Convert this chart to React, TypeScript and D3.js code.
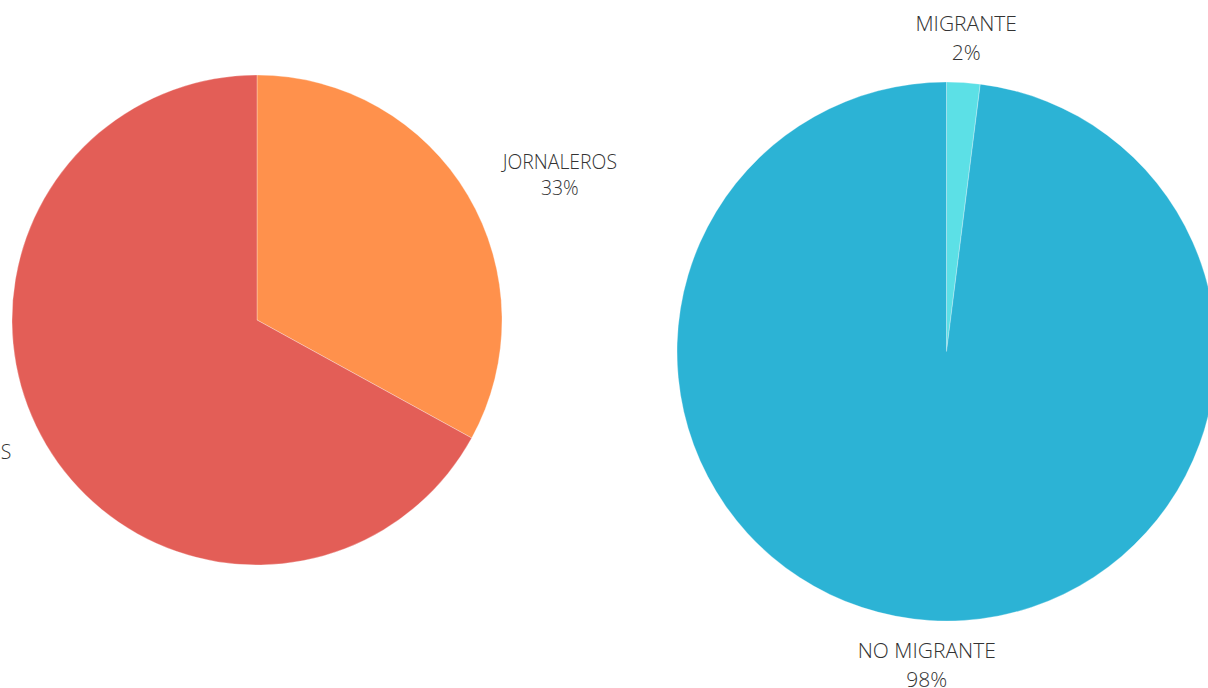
import React from "react";
import * as d3 from "d3";

const leftCategories = ["JORNALEROS", "NO JORNALEROS"];
const leftValues = [33, 67];
const leftColors = ["#FF914C", "#E35E57"];

const rightCategories = ["MIGRANTE", "NO MIGRANTE"];
const rightValues = [2, 98];
const rightColors = ["#5CE0E6", "#2CB3D5"];

const W = 1208;
const H = 688;

let ctx: CanvasRenderingContext2D | null = null;
function measure(t: string, size: number): number {
  if (!ctx) {
    const c = document.createElement("canvas");
    ctx = c.getContext("2d");
  }
  if (!ctx) return t.length * size * 0.6;
  ctx.font = `300 ${size}px 'Open Sans'`;
  return ctx.measureText(t).width;
}

type PieProps = {
  cx: number;
  cy: number;
  r: number;
  categories: string[];
  values: number[];
  colors: string[];
  font: number;
  line: number;
};

function Pie({ cx, cy, r, categories, values, colors, font, line }: PieProps) {
  const total = d3.sum(values);
  const arcs = d3
    .pie<number>()
    .sort(null)
    .startAngle(0)
    .endAngle(2 * Math.PI)(values);
  const arcGen = d3.arc<d3.PieArcDatum<number>>().innerRadius(0).outerRadius(r);
  const k = 1.165;
  return (
    <g>
      {arcs.map((a, i) => (
        <path
          key={"s" + i}
          d={arcGen(a) || ""}
          transform={`translate(${cx},${cy})`}
          fill={colors[i]}
          stroke="#ffffff"
          strokeWidth={0.3}
        />
      ))}
      {arcs.map((a, i) => {
        const mid = (a.startAngle + a.endAngle) / 2;
        const s = Math.sin(mid);
        const c = Math.cos(mid);
        const ax = cx + k * r * s;
        const yc = cy - k * r * c;
        const pct = Math.round((values[i] / total) * 100) + "%";
        const half = Math.max(measure(categories[i], font), measure(pct, font)) / 2;
        const x = s > 0.3 ? ax + half : s < -0.3 ? ax - half : ax;
        const base = 0.36 * font;
        return (
          <text
            key={"l" + i}
            textAnchor="middle"
            fill="#333"
            fontFamily="'Open Sans', sans-serif"
            fontWeight={300}
            fontSize={font}
          >
            <tspan x={x} y={yc - line / 2 + base}>
              {categories[i]}
            </tspan>
            <tspan x={x} y={yc + line / 2 + base}>
              {pct}
            </tspan>
          </text>
        );
      })}
    </g>
  );
}

export default function App() {
  return (
    <svg
      width={W}
      height={H}
      style={{ position: "absolute", left: 0, top: 0, background: "#fff" }}
    >
      <Pie
        cx={257}
        cy={320}
        r={245}
        categories={leftCategories}
        values={leftValues}
        colors={leftColors}
        font={19.4}
        line={26}
      />
      <Pie
        cx={946.5}
        cy={351.5}
        r={269.5}
        categories={rightCategories}
        values={rightValues}
        colors={rightColors}
        font={21}
        line={29}
      />
    </svg>
  );
}
